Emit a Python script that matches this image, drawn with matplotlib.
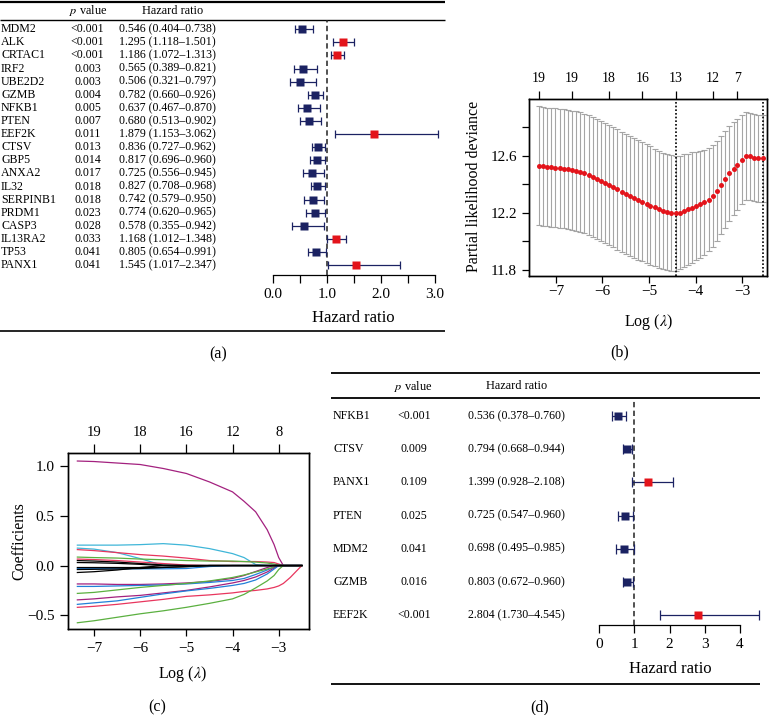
import numpy as np
import matplotlib
matplotlib.use('Agg')
import matplotlib.pyplot as plt
from matplotlib.transforms import blended_transform_factory as btf

plt.rcParams['font.family'] = ['Liberation Serif', 'DejaVu Serif']
plt.rcParams['mathtext.fontset'] = 'stix'

# ---------------- data: panel (a) univariate Cox ----------------
genes_a = ['MDM2', 'ALK', 'CRTAC1', 'IRF2', 'UBE2D2', 'GZMB', 'NFKB1', 'PTEN', 'EEF2K', 'CTSV',
           'GBP5', 'ANXA2', 'IL32', 'SERPINB1', 'PRDM1', 'CASP3', 'IL13RA2', 'TP53', 'PANX1']
p_a = ['<0.001', '<0.001', '<0.001', '0.003', '0.003', '0.004', '0.005', '0.007', '0.011', '0.013',
       '0.014', '0.017', '0.018', '0.018', '0.023', '0.028', '0.033', '0.041', '0.041']
hr_a = [0.546, 1.295, 1.186, 0.565, 0.506, 0.782, 0.637, 0.680, 1.879, 0.836,
        0.817, 0.725, 0.827, 0.742, 0.774, 0.578, 1.168, 0.805, 1.545]
lo_a = [0.404, 1.118, 1.072, 0.389, 0.321, 0.660, 0.467, 0.513, 1.153, 0.727,
        0.696, 0.556, 0.708, 0.579, 0.620, 0.355, 1.012, 0.654, 1.017]
hi_a = [0.738, 1.501, 1.313, 0.821, 0.797, 0.926, 0.870, 0.902, 3.062, 0.962,
        0.960, 0.945, 0.968, 0.950, 0.965, 0.942, 1.348, 0.991, 2.347]

# ---------------- data: panel (d) multivariate Cox ----------------
genes_d = ['NFKB1', 'CTSV', 'PANX1', 'PTEN', 'MDM2', 'GZMB', 'EEF2K']
p_d = ['<0.001', '0.009', '0.109', '0.025', '0.041', '0.016', '<0.001']
hr_d = [0.536, 0.794, 1.399, 0.725, 0.698, 0.803, 2.804]
lo_d = [0.378, 0.668, 0.928, 0.547, 0.495, 0.672, 1.730]
hi_d = [0.760, 0.944, 2.108, 0.960, 0.985, 0.960, 4.545]

# ---------------- data: panel (b) cross-validation ----------------
loglam_b = [-7.37, -7.28, -7.19, -7.10, -7.01, -6.92, -6.83, -6.75, -6.66, -6.57,
            -6.48, -6.39, -6.30, -6.21, -6.12, -6.03, -5.94, -5.86, -5.77, -5.68,
            -5.59, -5.50, -5.41, -5.32, -5.23, -5.14, -5.05, -4.97, -4.88, -4.79,
            -4.70, -4.61, -4.52, -4.43, -4.34, -4.25, -4.16, -4.07, -3.99, -3.90,
            -3.81, -3.72, -3.63, -3.54, -3.45, -3.36, -3.27, -3.18, -3.10, -3.01,
            -2.92, -2.83, -2.74, -2.65, -2.56]
cvm_b = [12.530, 12.525, 12.521, 12.518, 12.515, 12.512, 12.508, 12.503, 12.498, 12.492,
         12.485, 12.475, 12.463, 12.450, 12.436, 12.422, 12.408, 12.395, 12.380, 12.363,
         12.346, 12.330, 12.316, 12.302, 12.290, 12.278, 12.265, 12.251, 12.238, 12.225,
         12.212, 12.204, 12.199, 12.197, 12.202, 12.214, 12.224, 12.237, 12.248, 12.260,
         12.274, 12.292, 12.315, 12.355, 12.395, 12.435, 12.475, 12.508, 12.535, 12.570,
         12.595, 12.595, 12.585, 12.582, 12.580]
cvsd_b = [0.415, 0.415, 0.415, 0.416, 0.416, 0.416, 0.417, 0.417, 0.417, 0.418,
          0.418, 0.418, 0.419, 0.419, 0.419, 0.420, 0.420, 0.420, 0.420, 0.420,
          0.420, 0.420, 0.419, 0.418, 0.417, 0.416, 0.415, 0.413, 0.411, 0.409,
          0.407, 0.405, 0.403, 0.401, 0.398, 0.394, 0.390, 0.385, 0.380, 0.374,
          0.368, 0.362, 0.356, 0.350, 0.345, 0.340, 0.333, 0.326, 0.318, 0.311,
          0.307, 0.305, 0.305, 0.305, 0.305]
lam_min_b = -4.43
lam_1se_b = -2.56
nz_pos_b = [-7.37, -6.66, -5.86, -5.14, -4.43, -3.63, -3.10]
nz_lab_b = ['19', '19', '18', '16', '13', '12', '7']

# ---------------- data: panel (c) coefficient paths ----------------
loglam_c = [-7.36, -7.0, -6.5, -6.0, -5.5, -5.0, -4.5, -4.0, -3.75, -3.5, -3.25, -3.1, -3.0, -2.9, -2.75, -2.5]
paths_c = [
    ('m', [1.05, 1.045, 1.03, 1.015, 0.975, 0.925, 0.84, 0.74, 0.645, 0.54, 0.36, 0.21, 0.08, 0.0, 0.0, 0.0]),
    ('c', [0.205, 0.205, 0.205, 0.21, 0.22, 0.205, 0.17, 0.12, 0.08, 0.01, 0.0, 0.0, 0.0, 0.0, 0.0, 0.0]),
    ('c', [0.175, 0.165, 0.13, 0.07, 0.0, 0.0, 0.0, 0.0, 0.0, 0.0, 0.0, 0.0, 0.0, 0.0, 0.0, 0.0]),
    ('r', [0.16, 0.15, 0.13, 0.11, 0.095, 0.075, 0.05, 0.04, 0.04, 0.04, 0.035, 0.03, 0.015, 0.0, 0.0, 0.0]),
    ('g', [0.085, 0.08, 0.075, 0.065, 0.058, 0.05, 0.045, 0.045, 0.04, 0.035, 0.025, 0.015, 0.005, 0.0, 0.0, 0.0]),
    ('r', [0.065, 0.06, 0.05, 0.035, 0.02, 0.005, 0.0, 0.0, 0.0, 0.0, 0.0, 0.0, 0.0, 0.0, 0.0, 0.0]),
    ('b', [-0.03, -0.03, -0.032, -0.033, -0.033, -0.03, -0.01, 0.0, 0.0, 0.0, 0.0, 0.0, 0.0, 0.0, 0.0, 0.0]),
    ('m', [-0.185, -0.185, -0.19, -0.19, -0.185, -0.175, -0.16, -0.13, -0.10, -0.06, -0.02, 0.0, 0.0, 0.0, 0.0, 0.0]),
    ('b', [-0.21, -0.21, -0.205, -0.2, -0.195, -0.185, -0.17, -0.15, -0.13, -0.09, -0.045, -0.015, 0.0, 0.0, 0.0, 0.0]),
    ('g', [-0.28, -0.27, -0.245, -0.22, -0.2, -0.18, -0.155, -0.12, -0.095, -0.065, -0.035, -0.015, 0.0, 0.0, 0.0, 0.0]),
    ('m', [-0.345, -0.335, -0.315, -0.30, -0.275, -0.25, -0.215, -0.175, -0.15, -0.115, -0.065, -0.025, 0.0, 0.0, 0.0, 0.0]),
    ('b', [-0.39, -0.375, -0.355, -0.32, -0.285, -0.255, -0.23, -0.2, -0.18, -0.145, -0.085, -0.035, 0.0, 0.0, 0.0, 0.0]),
    ('r', [-0.42, -0.41, -0.39, -0.365, -0.34, -0.31, -0.295, -0.275, -0.26, -0.25, -0.235, -0.22, -0.205, -0.18, -0.12, 0.0]),
    ('g', [-0.575, -0.555, -0.52, -0.485, -0.455, -0.42, -0.38, -0.335, -0.29, -0.225, -0.155, -0.10, -0.04, 0.0, 0.0, 0.0]),
    ('k', [0.05, 0.045, 0.035, 0.02, 0.005, 0.0, 0.0, 0.0, 0.0, 0.0, 0.0, 0.0, 0.0, 0.0, 0.0, 0.0]),
    ('k', [0.03, 0.028, 0.022, 0.012, 0.0, 0.0, 0.0, 0.0, 0.0, 0.0, 0.0, 0.0, 0.0, 0.0, 0.0, 0.0]),
    ('k', [-0.02, -0.02, -0.02, -0.02, -0.018, -0.012, 0.0, 0.0, 0.0, 0.0, 0.0, 0.0, 0.0, 0.0, 0.0, 0.0]),
    ('k', [-0.04, -0.038, -0.035, -0.03, -0.02, -0.01, 0.0, 0.0, 0.0, 0.0, 0.0, 0.0, 0.0, 0.0, 0.0, 0.0]),
    ('k', [-0.07, -0.062, -0.045, -0.02, 0.0, 0.0, 0.0, 0.0, 0.0, 0.0, 0.0, 0.0, 0.0, 0.0, 0.0, 0.0]),
]
nz_pos_c = [-7, -6, -5, -4, -3]
nz_lab_c = ['19', '18', '16', '12', '8']

# ---------------- styles ----------------
NAVY = '#1B2262'
RED = '#E3141B'
PAL = {'k': '#000000', 'r': '#E8365E', 'g': '#5BB040', 'b': '#2280D8', 'c': '#3FB6D8', 'm': '#A3217F'}
TFS = 8.6   # table text size
HFS = 8.8   # table header size

W, H = 772, 715
fig = plt.figure(figsize=(W / 100, H / 100), dpi=100, facecolor='white')


def axpx(l, t, r, b):
    ax = fig.add_axes([l / W, 1 - b / H, (r - l) / W, (b - t) / H])
    ax.patch.set_alpha(0)
    return ax


ov = axpx(0, 0, W, H)
ov.set_xlim(0, W)
ov.set_ylim(H, 0)
ov.axis('off')


def hline(x0, x1, y, lw):
    ov.plot([x0, x1], [y, y], color='black', lw=lw, solid_capstyle='butt')


def forest(ax, hr, lo, hi, cap):
    for i in range(len(hr)):
        ax.errorbar([hr[i]], [i], xerr=[[hr[i] - lo[i]], [hi[i] - hr[i]]], fmt='none',
                    ecolor=NAVY, elinewidth=0.9, capsize=cap, capthick=0.9, zorder=2)
        ax.plot([hr[i]], [i], marker='s', ms=5.6, color=RED if hr[i] > 1 else NAVY,
                mec='none', ls='none', zorder=3)
    ax.axvline(1, color='#222222', lw=1.1, ls=(0, (3.5, 2.2)), zorder=1)
    for s in ['left', 'top', 'right']:
        ax.spines[s].set_visible(False)
    ax.spines['bottom'].set_linewidth(0.9)
    ax.set_yticks([])


# ================= panel (a) =================
pxu = (435 - 272.7) / 3.0
axa = axpx(260, 20, 445, 275)
axa.set_xlim((260 - 272.7) / pxu, (445 - 272.7) / pxu)
axa.set_ylim((275 - 29.3) / 13.1, (20 - 29.3) / 13.1)
forest(axa, hr_a, lo_a, hi_a, 3.0)
axa.spines['bottom'].set_bounds(0, 3)
axa.set_xticks([0, 1, 2, 3])
axa.set_xticklabels(['0.0', '1.0', '2.0', '3.0'])
axa.set_xticks([0.5, 1.5, 2.5], minor=True)
axa.tick_params(which='both', direction='out', length=6, width=0.9, labelsize=11, pad=3)

ta = btf(ov.transData, axa.transData)
for i, g in enumerate(genes_a):
    ov.text(1, i, g, transform=ta, ha='left', va='center', fontsize=TFS)
    ov.text(87.5, i, p_a[i], transform=ta, ha='center', va='center', fontsize=TFS)
    ov.text(119, i, f'{hr_a[i]:.3f} ({lo_a[i]:.3f}\u2013{hi_a[i]:.3f})', transform=ta,
            ha='left', va='center', fontsize=TFS)
ov.text(88, 10.5, r'$p$ value', ha='center', va='center', fontsize=HFS)
ov.text(173, 10.5, 'Hazard ratio', ha='center', va='center', fontsize=HFS)
hline(0, 445, 1.5, 1.6)
hline(0, 445, 20, 1.0)
hline(0, 445, 330.7, 1.2)
ov.text(353.8, 318, 'Hazard ratio', ha='center', va='center', fontsize=12)
ov.text(218, 354, '(a)', ha='center', va='center', fontsize=11.5)

# ================= panel (d) =================
pxd = (740 - 599) / 4.0
axd = axpx(585, 400, 768, 625)
axd.set_xlim((585 - 599) / pxd, (768 - 599) / pxd)
axd.set_ylim((625 - 416) / 33.17, (400 - 416) / 33.17)
forest(axd, hr_d, lo_d, hi_d, 3.6)
axd.spines['bottom'].set_bounds(0, 4)
axd.set_xticks([0, 1, 2, 3, 4])
axd.tick_params(which='both', direction='out', length=6, width=0.9, labelsize=11, pad=3)

td = btf(ov.transData, axd.transData)
for i, g in enumerate(genes_d):
    ov.text(333, i, g, transform=td, ha='left', va='center', fontsize=TFS)
    ov.text(414, i, p_d[i], transform=td, ha='center', va='center', fontsize=TFS)
    ov.text(468, i, f'{hr_d[i]:.3f} ({lo_d[i]:.3f}\u2013{hi_d[i]:.3f})', transform=td,
            ha='left', va='center', fontsize=TFS)
ov.text(413, 386, r'$p$ value', ha='center', va='center', fontsize=HFS)
ov.text(517, 386, 'Hazard ratio', ha='center', va='center', fontsize=HFS)
hline(331, 760, 373.3, 1.3)
hline(331, 760, 397.7, 1.3)
hline(331, 760, 684, 1.3)
ov.text(670, 669, 'Hazard ratio', ha='center', va='center', fontsize=12)
ov.text(540, 707, '(d)', ha='center', va='center', fontsize=11.5)

# ================= panel (b) =================
axb = axpx(529.3, 98.7, 767.3, 276)
axb.set_xlim(-7 - (556 - 529.3) / 46.6, -3 + (767.3 - 742) / 46.6)
axb.set_ylim(11.8 - (276 - 270) / 143.3, 12.6 + (155.7 - 98.7) / 143.3)
axb.errorbar(loglam_b, cvm_b, yerr=cvsd_b, fmt='none', ecolor='#A5A5A5', elinewidth=0.8,
             capsize=2.2, capthick=0.8, zorder=1)
axb.plot(loglam_b, cvm_b, 'o', color=RED, ms=3.6, mec='none', zorder=3)
axb.axvline(lam_min_b, color='black', ls=(0, (1, 1.2)), lw=1.2, zorder=2)
axb.axvline(lam_1se_b, color='black', ls=(0, (1, 1.2)), lw=1.2, zorder=2)
axb.set_xticks([-7, -6, -5, -4, -3])
axb.set_yticks([11.8, 12.2, 12.6])
axb.set_yticks([12.0, 12.4, 12.8], minor=True)
axb.tick_params(axis='x', which='both', direction='out', length=5.3, width=0.9, labelsize=11, pad=1)
axb.tick_params(axis='y', which='both', direction='out', length=5.3, width=0.9, labelsize=11, pad=3.5)
for s in axb.spines.values():
    s.set_linewidth(1.0)
axb_t = axb.twiny()
axb_t.set_xlim(axb.get_xlim())
axb_t.set_xticks(nz_pos_b)
axb_t.set_xticklabels(nz_lab_b)
axb_t.tick_params(axis='x', direction='out', length=5.8, width=0.9, labelsize=10, pad=4)
for s in axb_t.spines.values():
    s.set_linewidth(1.0)
ov.text(474, 186, 'Partial likelihood deviance', rotation=90, ha='center', va='center', fontsize=11.5)
ov.text(649, 322, r'Log ($\lambda$)', ha='center', va='center', fontsize=11.5)
ov.text(620, 352, '(b)', ha='center', va='center', fontsize=11.5)

# ================= panel (c) =================
axc = axpx(68.3, 452.7, 309.3, 629.3)
axc.set_xlim(-7 - (94 - 68.3) / 46.2, -3 + (309.3 - 278.7) / 46.2)
axc.set_ylim(-0.5 - (629.3 - 615.3) / 99.5, 1.0 + (466 - 452.7) / 99.5)
for col, vals in paths_c:
    axc.plot(loglam_c, vals, color=PAL[col], lw=0.9, zorder=3 if col == 'k' else 2)
axc.set_xticks([-7, -6, -5, -4, -3])
axc.set_yticks([-0.5, 0.0, 0.5, 1.0])
axc.tick_params(axis='x', direction='out', length=5.3, width=0.9, labelsize=11, pad=4)
axc.tick_params(axis='y', direction='out', length=6, width=0.9, labelsize=11, pad=4)
for s in axc.spines.values():
    s.set_linewidth(1.0)
axc_t = axc.twiny()
axc_t.set_xlim(axc.get_xlim())
axc_t.set_xticks(nz_pos_c)
axc_t.set_xticklabels(nz_lab_c)
axc_t.tick_params(axis='x', direction='out', length=6.5, width=0.9, labelsize=10.5, pad=3.5)
for s in axc_t.spines.values():
    s.set_linewidth(1.0)
ov.text(19, 541, 'Coefficients', rotation=90, ha='center', va='center', fontsize=11.5)
ov.text(183, 674, r'Log ($\lambda$)', ha='center', va='center', fontsize=11.5)
ov.text(157, 707, '(c)', ha='center', va='center', fontsize=11.5)

fig.savefig('out.png', dpi=100, facecolor='white')
